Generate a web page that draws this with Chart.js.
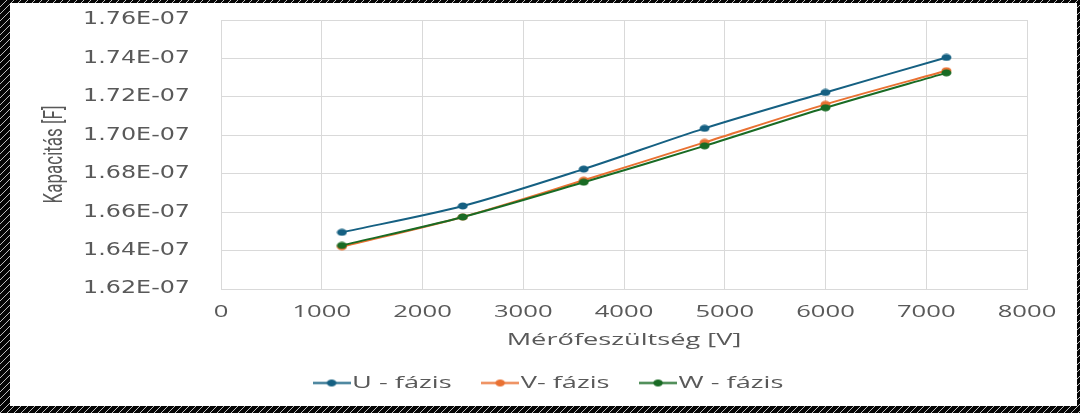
<!DOCTYPE html>
<html>
<head>
<meta charset="utf-8">
<script src="https://cdn.jsdelivr.net/npm/chart.js@4"></script>
<style>
  html, body { margin: 0; padding: 0; background: #000; }
  #wrap { width: 1080px; height: 413px; }
</style>
</head>
<body>
<div id="wrap"><canvas id="c" width="1080" height="413"></canvas></div>
<script>
// ---- data ----
const voltages = [1200, 2400, 3600, 4800, 6000, 7200];
const uPhase = [1.6495e-7, 1.6632e-7, 1.6824e-7, 1.7036e-7, 1.7223e-7, 1.7405e-7];
const vPhase = [1.6420e-7, 1.6575e-7, 1.6766e-7, 1.6963e-7, 1.7161e-7, 1.7336e-7];
const wPhase = [1.6427e-7, 1.6575e-7, 1.6756e-7, 1.6945e-7, 1.7143e-7, 1.7325e-7];
const seriesNames = ['U - fázis', 'V- fázis', 'W - fázis'];
const seriesColors = ['#156082', '#E97132', '#196B24'];
const xTitle = 'Mérőfeszültség [V]';
const yTitle = 'Kapacitás [F]';

// ---- the reference picture is stretched horizontally; text is stretched the same way ----
// [family, scale along text direction, scale across text direction]
const TEXT_STRETCH = [['Open Sans', 1.6, 1], ['DejaVu Sans', 1.4, 1], ['Roboto', 1, 1.5]];
function stretchFor(ctx) {
  const f = ctx.font;
  for (const s of TEXT_STRETCH) if (f.includes(s[0])) return s;
  return null;
}
const CP = CanvasRenderingContext2D.prototype;
const origFill = CP.fillText, origMeasure = CP.measureText;
CP.fillText = function (t, x, y, mw) {
  const s = stretchFor(this);
  if (!s) {
    return mw === undefined ? origFill.call(this, t, x, y) : origFill.call(this, t, x, y, mw);
  }
  this.save();
  this.translate(x, y);
  this.scale(s[1], s[2]);
  if (mw === undefined) origFill.call(this, t, 0, 0); else origFill.call(this, t, 0, 0, mw / s[1]);
  this.restore();
};
CP.measureText = function (t) {
  const m = origMeasure.call(this, t);
  const s = stretchFor(this);
  if (!s || s[1] === 1) return m;
  const k = s[1];
  return {
    width: m.width * k,
    actualBoundingBoxLeft: m.actualBoundingBoxLeft * k,
    actualBoundingBoxRight: m.actualBoundingBoxRight * k,
    actualBoundingBoxAscent: m.actualBoundingBoxAscent,
    actualBoundingBoxDescent: m.actualBoundingBoxDescent,
    fontBoundingBoxAscent: m.fontBoundingBoxAscent,
    fontBoundingBoxDescent: m.fontBoundingBoxDescent
  };
};

// ---- marker images (round markers, widened like the picture) ----
function makeDot(color) {
  const c = document.createElement('canvas');
  c.width = 11; c.height = 8;
  const g = c.getContext('2d');
  g.fillStyle = color;
  g.beginPath(); g.ellipse(5.5, 4, 5, 3.5, 0, 0, Math.PI * 2); g.fill();
  return c;
}
function makeLegendMarker(color) {
  const c = document.createElement('canvas');
  c.width = 38; c.height = 9;
  const g = c.getContext('2d');
  g.strokeStyle = color; g.lineWidth = 2;
  g.beginPath(); g.moveTo(0, 4.5); g.lineTo(38, 4.5); g.stroke();
  g.fillStyle = color;
  g.beginPath(); g.ellipse(19, 4.5, 4.8, 3.4, 0, 0, Math.PI * 2); g.fill();
  return c;
}
const dots = seriesColors.map(makeDot);
const legendMarkers = seriesColors.map(makeLegendMarker);

function sci(v) {
  const [m, e] = Number(v).toExponential(2).split('e');
  const en = parseInt(e, 10);
  return m + 'E' + (en < 0 ? '-' : '+') + String(Math.abs(en)).padStart(2, '0');
}

const frame = {
  id: 'frame',
  beforeDraw(chart) {
    const ctx = chart.ctx;
    ctx.save();
    const pc = document.createElement('canvas');
    pc.width = 7; pc.height = 7;
    const g = pc.getContext('2d');
    g.fillStyle = '#050505'; g.fillRect(0, 0, 7, 7);
    g.strokeStyle = '#bdbdbd'; g.lineWidth = 1;
    g.beginPath(); g.moveTo(-1, 8); g.lineTo(8, -1); g.stroke();
    ctx.fillStyle = ctx.createPattern(pc, 'repeat');
    ctx.fillRect(0, 0, chart.width, chart.height);
    ctx.fillStyle = '#ffffff';
    ctx.fillRect(10, 3, 1067, 403);
    ctx.restore();
  },
  afterLayout(chart) {
    if (chart.legend) { chart.legend.left += 38; chart.legend.right += 38; }
  }
};

const seriesValues = [uPhase, vPhase, wPhase];
const datasets = seriesValues.map((vals, i) => ({
  label: seriesNames[i],
  data: voltages.map((x, j) => ({ x: x, y: vals[j] })),
  borderColor: seriesColors[i],
  backgroundColor: seriesColors[i],
  borderWidth: 2,
  pointStyle: dots[i],
  pointRadius: 4,
  tension: 0.3,
  order: 2 - i
}));

const gray = '#595959';
const gridCol = '#d9d9d9';

new Chart(document.getElementById('c'), {
  type: 'line',
  data: { datasets },
  plugins: [frame],
  options: {
    responsive: false,
    animation: false,
    devicePixelRatio: 1,
    layout: { padding: { left: 0, right: 53, top: 20, bottom: 11.5 } },
    plugins: {
      tooltip: { enabled: false },
      legend: {
        position: 'bottom',
        labels: {
          usePointStyle: true,
          pointStyleWidth: 24,
          padding: 36.5,
          color: gray,
          font: { family: "'Open Sans', sans-serif", size: 17 },
          generateLabels(chart) {
            return chart.data.datasets.map((ds, i) => ({
              text: ds.label,
              datasetIndex: i,
              fillStyle: seriesColors[i],
              strokeStyle: seriesColors[i],
              lineWidth: 0,
              hidden: !chart.isDatasetVisible(i),
              pointStyle: legendMarkers[i],
              fontColor: gray
            }));
          }
        }
      }
    },
    scales: {
      x: {
        type: 'linear',
        min: 0, max: 8000,
        afterFit(s) { s.height = 338 - 289; },
        ticks: {
          stepSize: 1000,
          padding: 13.9,
          color: gray,
          font: { family: "'Open Sans', sans-serif", size: 16 },
          callback: (v) => String(v)
        },
        grid: { color: gridCol, lineWidth: 1, drawTicks: false },
        border: { color: gridCol, width: 1 },
        title: {
          display: true,
          text: xTitle,
          color: gray,
          font: { family: "'Open Sans', sans-serif", size: 17 },
          padding: { top: 0, bottom: -12.2 }
        }
      },
      y: {
        min: 1.62e-7, max: 1.76e-7,
        afterFit(s) { s.width = 221; s.paddingTop = 10; s.paddingBottom = 10; },
        ticks: {
          stepSize: 2e-9,
          padding: 31,
          color: gray,
          font: { family: "'DejaVu Sans', sans-serif", size: 17 },
          callback: (v) => sci(v)
        },
        grid: { color: gridCol, lineWidth: 1, drawTicks: false },
        border: { color: gridCol, width: 1 },
        title: {
          display: true,
          text: yTitle,
          color: gray,
          font: { family: "'Roboto', sans-serif", size: 17 },
          padding: { top: 45.3, bottom: 0 }
        }
      }
    }
  }
});
</script>
</body>
</html>
